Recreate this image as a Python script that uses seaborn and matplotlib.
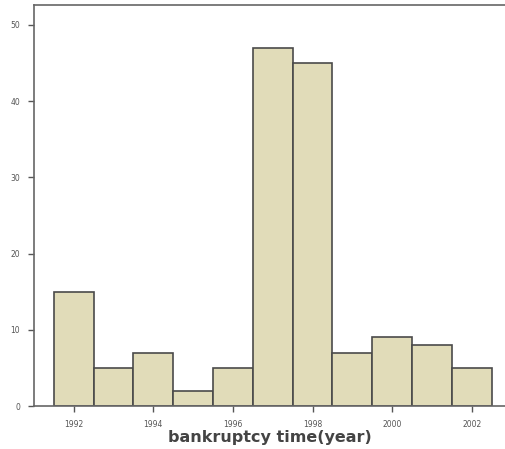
import matplotlib
matplotlib.use("Agg")
import matplotlib.pyplot as plt
import seaborn as sns
import pandas as pd

years = [1992, 1993, 1994, 1995, 1996, 1997, 1998, 1999, 2000, 2001, 2002]
counts = [15, 5, 7, 2, 5, 47, 45, 7, 9, 8, 5]
xticks = [1992, 1994, 1996, 1998, 2000, 2002]
yticks = [0, 10, 20, 30, 40, 50]

sns.set_style("white")
plt.rcParams['font.family'] = ['DejaVu Sans']

df = pd.DataFrame({"year": years, "count": counts})

fig = plt.figure(figsize=(5.05, 4.49), dpi=100)
ax = fig.add_axes([34/505, 43/449, 1 - 34/505 + 0.001, (406-5)/449])

sns.histplot(data=df, x="year", weights="count", discrete=True, ax=ax,
             color="#e1dcb9", edgecolor="#4a4a4a", linewidth=1.2, alpha=1)

ax.set_xlim(1991.0, 2002.85)
ax.set_ylim(0, 52.6)
ax.set_xticks(xticks)
ax.set_xticklabels([str(t) for t in xticks])
ax.set_yticks(yticks)
ax.tick_params(axis='both', direction='out', length=4, width=1, color="#555555",
               labelsize=5.5, labelcolor="#555555", bottom=True, left=True, pad=6)
ax.set_xlabel("bankruptcy time(year)", fontsize=11.5, fontweight='bold', color="#444444", labelpad=1)
ax.set_ylabel("")
for s in ['left', 'bottom', 'top']:
    ax.spines[s].set_visible(True)
    ax.spines[s].set_color("#666666")
    ax.spines[s].set_linewidth(1.2)
ax.spines['right'].set_visible(False)

fig.savefig("out.png", dpi=100)
